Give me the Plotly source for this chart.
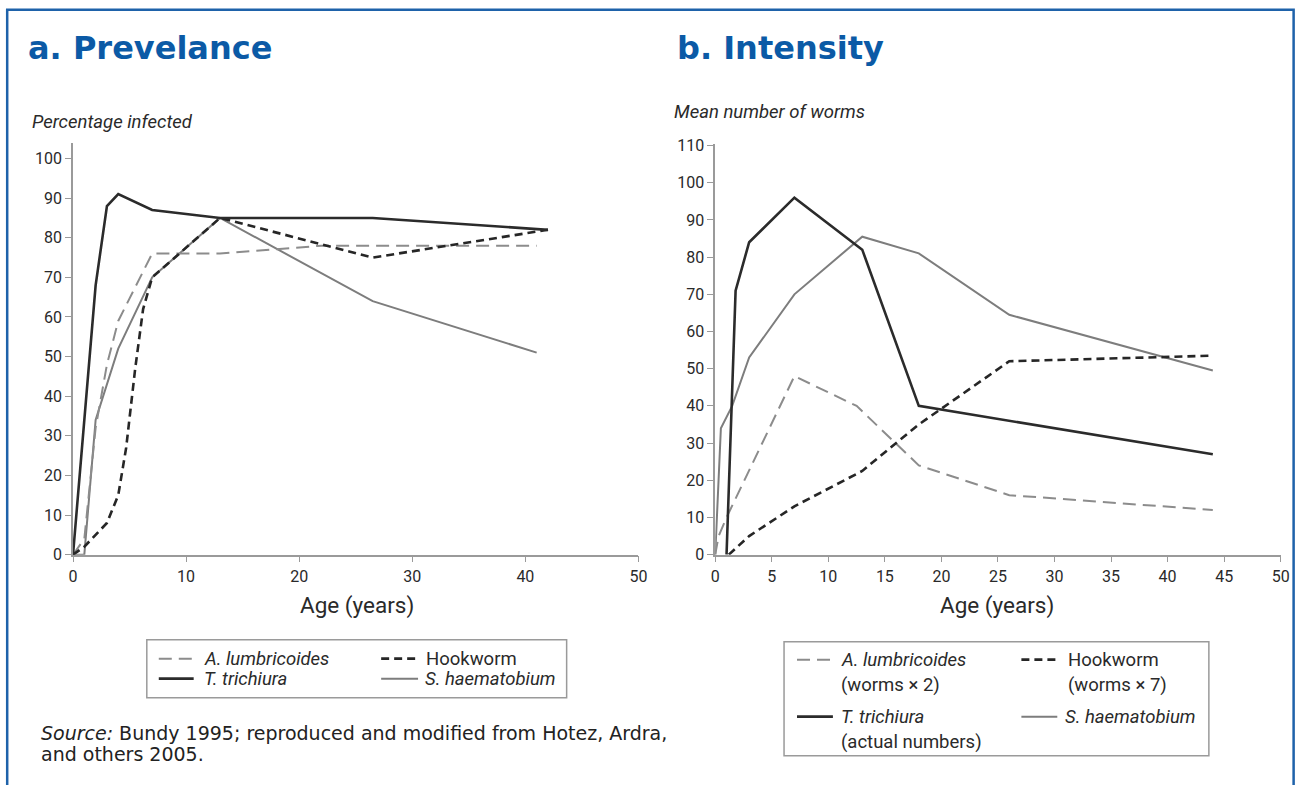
import plotly.graph_objects as go

W, H = 1304, 785

# ---------------- data: a. Prevalence ----------------
prev_asc_age = [0, 1, 2, 3, 4, 7, 13, 22, 41]
prev_asc_val = [0, 4, 32, 48, 59, 76, 76, 78, 78]
prev_hook_age = [0, 1, 3, 4, 4.7, 5.5, 6.2, 7, 13, 26.5, 42]
prev_hook_val = [0, 2, 8, 15, 27, 47, 62, 70, 85, 75, 82]
prev_tri_age = [0, 2, 3, 4, 7, 13, 26.5, 42]
prev_tri_val = [0, 68, 88, 91, 87, 85, 85, 82]
prev_sch_age = [0, 1, 2, 4, 7, 13, 26.5, 41]
prev_sch_val = [0, 0, 34, 52, 70, 85, 64, 51]

# ---------------- data: b. Intensity ----------------
int_asc_age = [0, 0.3, 1, 7, 12.5, 18, 26, 44]
int_asc_val = [0, 5, 10, 48, 40, 24, 16, 12]
int_hook_age = [1.2, 3, 7, 12, 13, 18, 26, 44]
int_hook_val = [0, 5, 13, 21, 22.5, 35, 52, 53.5]
int_tri_age = [1, 1.8, 3, 7, 13, 18, 44]
int_tri_val = [0, 71, 84, 96, 82, 40, 27]
int_sch_age = [0, 0.5, 1.5, 3, 7, 13, 18, 26, 44]
int_sch_val = [0, 34, 40, 53, 70, 85.5, 81, 64.5, 49.5]

prev_xticks = [0, 10, 20, 30, 40, 50]
prev_yticks = list(range(0, 101, 10))
int_xticks = list(range(0, 51, 5))
int_yticks = list(range(0, 111, 10))

# ---------------- styles ----------------
STY = {
    "asc": dict(color="#8c8c8c", width=2, dash="13px,7px"),
    "hook": dict(color="#262626", width=2.6, dash="8px,5px"),
    "tri": dict(color="#2b2b2b", width=2.6, dash="solid"),
    "sch": dict(color="#7d7d7d", width=2, dash="solid"),
}

# positions below are given in picture pixels; map them to the page
SX, OX, SY, OY = 0.992, 2.8, 0.988, 0.2
VS, VO = 0.99032, 7.1

def px(x):
    return ((x - OX) / SX) / W

def py(y):
    y2 = (y - VO) / VS
    return 1 - ((y2 - OY) / SY) / H

fig = go.Figure()

def add(xs, ys, key, xa, ya):
    fig.add_trace(go.Scatter(x=xs, y=ys, mode="lines", line=STY[key],
                             xaxis=xa, yaxis=ya, showlegend=False,
                             hoverinfo="skip"))

add(prev_sch_age, prev_sch_val, "sch", "x", "y")
add(prev_asc_age, prev_asc_val, "asc", "x", "y")
add(prev_hook_age, prev_hook_val, "hook", "x", "y")
add(prev_tri_age, prev_tri_val, "tri", "x", "y")

add(int_sch_age, int_sch_val, "sch", "x2", "y2")
add(int_asc_age, int_asc_val, "asc", "x2", "y2")
add(int_hook_age, int_hook_val, "hook", "x2", "y2")
add(int_tri_age, int_tri_val, "tri", "x2", "y2")

NARROW = "Liberation Sans Narrow, Roboto, Liberation Sans, sans-serif"
TICKFONT = dict(family=NARROW, size=16, color="#2a2a2a")
AX = dict(showline=True, linecolor="#9a9a9a", linewidth=1.5, ticks="outside",
          ticklen=6, tickcolor="#9a9a9a", tickwidth=1.3, showgrid=False,
          zeroline=False, tickfont=TICKFONT, fixedrange=True)

fig.update_layout(
    width=W, height=H,
    margin=dict(l=0, r=0, t=0, b=0),
    paper_bgcolor="white", plot_bgcolor="white",
    xaxis=dict(AX, domain=[px(71), px(638)], range=[0, 50], tickvals=prev_xticks,
               anchor="y"),
    yaxis=dict(AX, domain=[py(555), py(143)], range=[0, 104], tickvals=prev_yticks,
               anchor="x"),
    xaxis2=dict(AX, domain=[px(715), px(1282)], range=[0, 50],
                tickvals=int_xticks, anchor="y2"),
    yaxis2=dict(AX, domain=[py(555), py(144)], range=[0, 110.5], tickvals=int_yticks,
                anchor="x2"),
)

ann = []
def text(x, y, s, size=16, family=NARROW, color="#2a2a2a", xanchor="left"):
    ann.append(dict(x=px(x), y=py(y), xref="paper", yref="paper", text=s,
                    showarrow=False, xanchor=xanchor, yanchor="middle",
                    font=dict(family=family, size=size, color=color)))

# titles
TF = "DejaVu Sans, Verdana, sans-serif"
text(24, 48, "<b>a. Prevelance</b>", size=32, family=TF, color="#0b5aa6")
text(675, 48, "<b>b. Intensity</b>", size=32, family=TF, color="#0b5aa6")

# axis titles
text(28, 122, "<i>Percentage infected</i>", size=18.5)
text(672, 112, "<i>Mean number of worms</i>", size=18.5)
text(356, 606, "Age (years)", size=22.5, xanchor="center")
text(998, 606, "Age (years)", size=22.5, xanchor="center")

# source
text(37, 733, "<i>Source:</i> Bundy 1995; reproduced and modified from Hotez, Ardra,",
     size=19, family=TF, color="#222222")
text(37, 754, "and others 2005.", size=19, family=TF, color="#222222")

shapes = []
# frame (left/top/right border)
xr = min(px(1301), 1302.6 / W)
shapes.append(dict(type="path", xref="paper", yref="paper",
                   path=f"M {px(5)},-0.05 L {px(5)},{py(10)} L {xr},{py(10)} L {xr},-0.05",
                   line=dict(color="#1e62aa", width=2.5)))
# legend boxes
shapes.append(dict(type="rect", xref="paper", yref="paper",
                   x0=px(145), x1=px(566), y0=py(640), y1=py(698),
                   line=dict(color="#9a9a9a", width=1.5)))
shapes.append(dict(type="rect", xref="paper", yref="paper",
                   x0=px(784), x1=px(1210), y0=py(642), y1=py(756),
                   line=dict(color="#9a9a9a", width=1.5)))

def sample(x0, x1, y, key):
    s = STY[key]
    shapes.append(dict(type="line", xref="paper", yref="paper",
                       x0=px(x0), x1=px(x1), y0=py(y), y1=py(y),
                       line=dict(color=s["color"], width=s["width"], dash=s["dash"])))

LS = 18.5
# left legend
sample(157, 192, 659, "asc"); text(200, 659, "<i>A. lumbricoides</i>", size=LS)
sample(380, 417, 659, "hook"); text(423, 659, "Hookworm", size=LS)
sample(157, 192, 679, "tri"); text(200, 679, "<i>T. trichiura</i>", size=LS)
sample(380, 417, 679, "sch"); text(422, 679, "<i>S. haematobium</i>", size=LS)

# right legend
sample(797, 833, 660, "asc"); text(839, 660, "<i>A. lumbricoides</i>", size=LS)
text(839, 685, "(worms × 2)", size=LS)
sample(1022, 1058, 660, "hook"); text(1067, 660, "Hookworm", size=LS)
text(1067, 685, "(worms × 7)", size=LS)
sample(797, 833, 717, "tri"); text(839, 717, "<i>T. trichiura</i>", size=LS)
text(839, 742, "(actual numbers)", size=LS)
sample(1022, 1058, 717, "sch"); text(1064, 717, "<i>S. haematobium</i>", size=LS)

fig.update_layout(annotations=ann, shapes=shapes)
fig.write_html("out.html", config={"displayModeBar": False},
               post_script="document.body.style.margin='0';document.body.style.overflow='hidden';")
